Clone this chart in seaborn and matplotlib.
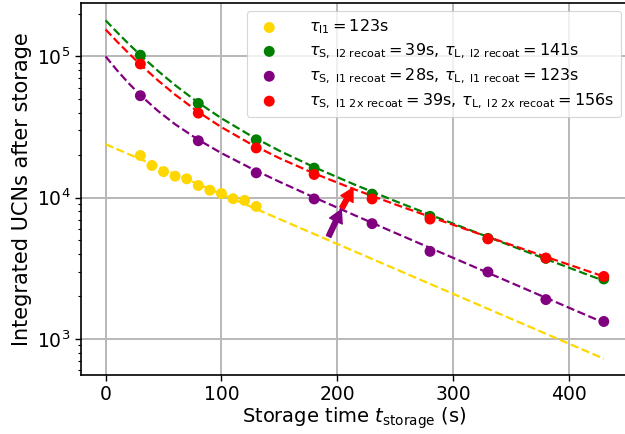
import numpy as np
import pandas as pd
import matplotlib
matplotlib.use("Agg")
import matplotlib.pyplot as plt
import seaborn as sns

# ---- measured points ----
t_l1 = [30, 40, 50, 60, 70, 80, 90, 100, 110, 120, 130]
n_l1 = [19900, 16900, 15300, 14200, 13600, 12200, 11300, 10700, 9840, 9570, 8670]

t_recoat = [30, 80, 130, 180, 230, 280, 330, 380, 430]
n_l2_recoat = [102000, 46500, 25700, 16200, 10600, 7380, 5150, 3720, 2660]
n_l1_recoat = [52700, 25300, 15000, 9800, 6550, 4170, 2980, 1900, 1330]
n_2x_recoat = [88400, 39700, 22500, 14600, 9800, 7060, 5110, 3740, 2770]

# ---- fit curves ----
t_fit_l1 = [0, 430]
fit_l1 = [23900, 725]

t_fit = [0, 10, 20, 30, 45, 60, 80, 100, 125, 150, 180, 215, 250, 290, 330, 380, 430]
fit_l2_recoat = [180000, 147900, 122400, 102200, 79190, 62560, 47040, 36480, 27540,
                 21490, 16450, 12370, 9460, 7045, 5275, 3680, 2582]
fit_l1_recoat = [100000, 79520, 64450, 53220, 41250, 33090, 25710, 20670, 16220,
                 12970, 10040, 7510, 5633, 4068, 2941, 1957, 1304]
fit_2x_recoat = [155000, 127100, 105060, 87590, 67810, 53600, 40430, 31550, 24080,
                 19050, 14850, 11440, 8960, 6860, 5280, 3815, 2769]

labels = [
    r"$\tau_{\rm l1} = 123{\rm s}$",
    r"$\tau_{\rm S,\ l2\ recoat} = 39{\rm s},\,\tau_{\rm L,\ l2\ recoat} = 141{\rm s}$",
    r"$\tau_{\rm S,\ l1\ recoat} = 28{\rm s},\,\tau_{\rm L,\ l1\ recoat} = 123{\rm s}$",
    r"$\tau_{\rm S,\ l1\ 2x\ recoat} = 39{\rm s},\,\tau_{\rm L,\ l2\ 2x\ recoat} = 156{\rm s}$",
]
colors = ["gold", "green", "purple", "red"]

# arrows (tail -> head) in data coords
arrow_purple = [(192.5, 5320), (203.4, 8220)]
arrow_red = [(204.0, 8450), (213.5, 11700)]

fig = plt.figure(figsize=(6.25, 4.34), dpi=100)
ax = fig.add_axes([80.7 / 625, 59 / 434, (628.7 - 80.7) / 625, (375 - 3.3) / 434])
ax.set_yscale("log")

fits = [(t_fit_l1, fit_l1), (t_fit, fit_l2_recoat), (t_fit, fit_l1_recoat), (t_fit, fit_2x_recoat)]
pts = [(t_l1, n_l1), (t_recoat, n_l2_recoat), (t_recoat, n_l1_recoat), (t_recoat, n_2x_recoat)]

for (tx, ty), c in zip(fits, colors):
    sns.lineplot(x=tx, y=ty, ax=ax, color=c, linestyle="--", linewidth=1.6,
                 legend=False, zorder=2, estimator=None, sort=False)

for (tx, ty), c, lab in zip(pts, colors, labels):
    sns.scatterplot(x=tx, y=ty, ax=ax, color=c, s=62, edgecolor="none",
                    label=lab, zorder=3)

for (tail, head), c in [(arrow_purple, "purple"), (arrow_red, "red")]:
    ax.annotate("", xy=head, xytext=tail,
                arrowprops=dict(facecolor=c, edgecolor=c, width=3.5,
                                headwidth=10, headlength=9, shrink=0.0),
                zorder=4)

ax.set_xlim(-21.5, 451.5)
ax.set_ylim(10 ** 2.745, 10 ** 5.376)
ax.set_xticks([0, 100, 200, 300, 400])
ax.grid(True, which="major", color="#b8b8b8", linewidth=1.4, zorder=0)
ax.set_axisbelow(True)
for sp in ax.spines.values():
    sp.set_linewidth(1.2)
    sp.set_color("black")
ax.tick_params(axis="both", which="major", labelsize=13.5, length=4, width=1)
ax.tick_params(axis="y", which="minor", length=2.5, width=0.8)

ax.set_xlabel(r"Storage time $t_{\rm storage}$ (s)", fontsize=14, labelpad=1)
ax.set_ylabel("Integrated UCNs after storage", fontsize=15, labelpad=3)

leg = ax.legend(loc="upper right", fontsize=11.5, frameon=True, handletextpad=1.5,
                labelspacing=0.35, borderpad=0.4, markerscale=1.0)
leg.get_frame().set_linewidth(0.8)

fig.savefig("out.png", dpi=100)
